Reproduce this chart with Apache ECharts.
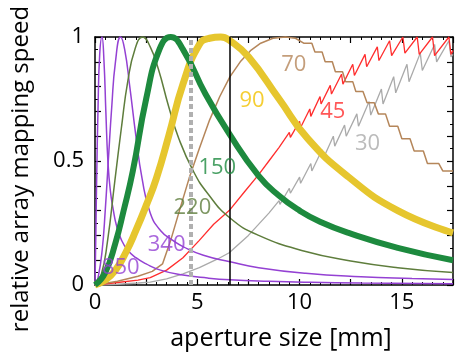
<!DOCTYPE html>
<html><head><meta charset="utf-8">
<script src="https://cdn.jsdelivr.net/npm/echarts/dist/echarts.min.js"></script>
<style>html,body{margin:0;padding:0;background:#fff}#c{width:456px;height:354px}</style>
</head><body><div id="c"></div>
<script>
// ---- data (aperture size [mm], relative mapping speed) ----
const xTickLabels = [0, 5, 10, 15];
const yTickLabels = [0, 0.5, 1];
const refLines = [4.7, 6.6]; // dashed grey, solid black

const s850 = [[0,0],[0.04,0.2],[0.08,0.42],[0.15,0.72],[0.23,0.93],[0.34,1.0],[0.44,0.9],[0.53,0.7],[0.63,0.5],[0.75,0.38],[0.9,0.3],[1.05,0.24],[1.3,0.18],[1.6,0.14],[2.0,0.11],[2.5,0.085],[3.2,0.06],[4.3,0.04],[5.5,0.028],[6.6,0.021],[8.5,0.015],[10.5,0.011],[13,0.008],[17.5,0.005]];
const s340 = [[0,0],[0.15,0.03],[0.35,0.14],[0.5,0.3],[0.65,0.5],[0.82,0.72],[1.0,0.9],[1.25,1.0],[1.45,0.95],[1.7,0.8],[2.0,0.6],[2.3,0.43],[2.7,0.29],[3.2,0.22],[3.8,0.18],[4.3,0.155],[5.3,0.12],[6.6,0.094],[8.0,0.07],[10.3,0.047],[13,0.033],[15.5,0.026],[17.5,0.022]];
const s220 = [[0,0],[0.3,0.04],[0.6,0.17],[0.97,0.42],[1.3,0.64],[1.6,0.82],[1.95,0.95],[2.33,1.0],[2.7,0.96],[3.1,0.87],[3.6,0.72],[4.1,0.59],[4.8,0.46],[5.5,0.37],[6.6,0.27],[8.0,0.2],[10.3,0.135],[12.5,0.097],[14.8,0.07],[17.5,0.05]];
const s150 = [[0,0],[0.5,0.05],[1.0,0.17],[1.4,0.3],[1.85,0.46],[2.5,0.75],[3.15,0.95],[3.7,1.0],[4.3,0.95],[5.4,0.77],[6.56,0.61],[8.0,0.44],[9.0,0.36],[10.0,0.3],[11.0,0.255],[12.4,0.21],[14.8,0.15],[17.5,0.1]];
const s90 = [[0,0],[0.5,0.02],[1.0,0.06],[1.5,0.13],[2.0,0.22],[2.5,0.32],[3.0,0.43],[3.6,0.6],[4.3,0.81],[5.1,0.97],[5.6,0.995],[6.15,1.0],[6.6,0.985],[7.5,0.92],[9.0,0.75],[10.4,0.59],[12.4,0.435],[14.8,0.3],[17.5,0.21]];
const s70 = [[0,0],[1.1,0.015],[2.1,0.035],[2.8,0.055],[3.3,0.085],[3.7,0.18],[4.2,0.32],[4.6,0.43],[5.1,0.55],[5.6,0.665],[6.1,0.76],[6.6,0.84],[7.1,0.9],[7.6,0.945],[8.1,0.975],[8.7,0.995],[9.3,1.0],[9.8,0.995],[10.2,0.975],[10.6,0.975],[10.75,0.94],[11.1,0.94],[11.25,0.9],[11.6,0.9],[11.75,0.86],[12.1,0.86],[12.25,0.82],[12.6,0.82],[12.75,0.78],[13.1,0.78],[13.3,0.735],[13.65,0.735],[13.85,0.69],[14.2,0.69],[14.4,0.64],[14.8,0.64],[15.0,0.59],[15.4,0.59],[15.6,0.54],[16.05,0.54],[16.25,0.49],[16.8,0.49],[17.0,0.46],[17.5,0.46]];
const s45 = [[0,0],[1.1,0.01],[2.1,0.02],[2.7,0.03],[3.5,0.06],[4.3,0.11],[5.1,0.18],[5.8,0.245],[6.56,0.3],[7.3,0.375],[8.0,0.445],[8.5,0.5],[9.0,0.555],[9.5,0.615],[9.55,0.595],[10.0,0.66],[10.05,0.635],[10.5,0.71],[10.55,0.68],[11.0,0.76],[11.05,0.73],[11.5,0.805],[11.56,0.77],[12.05,0.85],[12.12,0.81],[12.6,0.89],[12.68,0.845],[13.2,0.93],[13.28,0.88],[13.8,0.96],[13.88,0.905],[14.4,0.985],[14.5,0.925],[15.05,1.0],[15.15,0.935],[15.75,1.0],[15.85,0.93],[16.5,1.0],[16.6,0.925],[17.3,1.0],[17.4,0.93],[17.5,0.945]];
const s30 = [[0,0],[1.1,0.003],[2.1,0.008],[2.7,0.012],[3.5,0.025],[4.3,0.045],[5.1,0.07],[6.0,0.105],[6.56,0.13],[7.5,0.2],[8.5,0.29],[9.0,0.34],[9.04,0.325],[9.5,0.39],[9.55,0.37],[10.0,0.435],[10.05,0.41],[10.55,0.49],[10.6,0.46],[11.1,0.545],[11.16,0.51],[11.65,0.6],[11.72,0.56],[12.2,0.645],[12.28,0.6],[12.8,0.69],[12.88,0.64],[13.4,0.74],[13.48,0.685],[14.0,0.79],[14.08,0.73],[14.6,0.84],[14.7,0.775],[15.25,0.89],[15.35,0.82],[15.9,0.935],[16.0,0.865],[16.6,0.97],[16.7,0.9],[17.3,0.985],[17.4,0.92],[17.5,0.93]];

// curve labels: [text, x (mm), y (rel. speed)]
const curveLabels = [
  ['850', 1.26, 0.069], ['340', 3.5, 0.161], ['220', 4.76, 0.31], ['150', 5.98, 0.472],
  ['90', 7.68, 0.742], ['70', 9.72, 0.887], ['45', 11.62, 0.70], ['30', 13.32, 0.569]
];

// ---- styles ----
const FONT = 'Open Sans';
const C = {
  '850': '#9441d3', '340': '#9441d3', '220': '#5e7d3c', '150': '#1d8a3e',
  '90': '#e6c62e', '70': '#b5865a', '45': '#ff2d2d', '30': '#aaaaaa'
};
const LABELC = Object.assign({}, C, {'90': '#f2c200'});

function line(name, data, width, smooth) {
  return {
    name, type: 'line', data, smooth, showSymbol: false, symbol: 'none', clip: false,
    lineStyle: {color: C[name], width}, itemStyle: {color: C[name]}, z: 2
  };
}
const near = (v, arr) => arr.some(a => Math.abs(a - v) < 1e-6);

const axisLineS = {show: true, onZero: false, lineStyle: {color: '#000', width: 1.5}};
const tickS = {show: true, inside: true, length: 6, lineStyle: {color: '#000', width: 1.2}};
const minorS = (n) => ({show: true, splitNumber: n, length: 3, lineStyle: {color: '#000', width: 1}});

const option = {
  animation: false,
  backgroundColor: '#fff',
  grid: {left: 95, right: 0, top: 37, bottom: 69},
  xAxis: [
    {type: 'value', min: 0, max: 17.5, interval: 2.5, position: 'bottom',
     axisLine: axisLineS, axisTick: tickS, minorTick: minorS(5),
     splitLine: {show: false}, minorSplitLine: {show: false},
     axisLabel: {formatter: v => near(v, xTickLabels) ? String(v) : '', fontSize: 22, color: '#000', fontFamily: FONT, margin: 7}},
    {type: 'value', min: 0, max: 17.5, interval: 2.5, position: 'top',
     axisLine: axisLineS, axisTick: tickS, minorTick: minorS(5),
     splitLine: {show: false}, axisLabel: {show: false}}
  ],
  yAxis: [
    {type: 'value', min: 0, max: 1, interval: 0.1, position: 'left',
     axisLine: axisLineS, axisTick: tickS, minorTick: minorS(2),
     splitLine: {show: false}, minorSplitLine: {show: false},
     axisLabel: {formatter: v => near(v, yTickLabels) ? String(+v.toFixed(2)) : '', fontSize: 22, color: '#000', fontFamily: FONT, margin: 11}},
    {type: 'value', min: 0, max: 1, interval: 0.1, position: 'right',
     axisLine: axisLineS, axisTick: tickS, minorTick: minorS(2),
     splitLine: {show: false}, axisLabel: {show: false}}
  ],
  graphic: [
    {type: 'text', x: 281, y: 339, style: {text: 'aperture size [mm]', fontSize: 25, fontFamily: FONT, fill: '#000', textAlign: 'center', textVerticalAlign: 'middle'}},
    {type: 'text', x: 21, y: 169, rotation: Math.PI / 2, style: {text: 'relative array mapping speed', fontSize: 24, fontFamily: FONT, fill: '#000', textAlign: 'center', textVerticalAlign: 'middle'}}
  ],
  series: [
    Object.assign(line('30', s30, 1.3, false), {
      markLine: {silent: true, symbol: 'none', label: {show: false}, animation: false,
        data: [
          {xAxis: refLines[0], lineStyle: {color: '#b0b0b0', width: 4, type: [5, 3]}},
          {xAxis: refLines[1], lineStyle: {color: '#000', width: 1.5, type: 'solid'}}
        ]}
    }),
    line('45', s45, 1.3, false),
    line('70', s70, 1.5, false),
    line('850', s850, 1.5, true),
    line('340', s340, 1.5, true),
    line('220', s220, 1.5, true),
    line('90', s90, 7, true),
    line('150', s150, 6, true),
    {type: 'scatter', symbolSize: 0, z: 5, silent: true,
     data: curveLabels.map(([t, x, y]) => ({value: [x, y], name: t,
       label: {show: true, position: 'inside', formatter: t, color: LABELC[t], fontSize: 22, fontFamily: FONT}}))}
  ]
};
const chart = echarts.init(document.getElementById('c'));
chart.setOption(option);
</script>
</body></html>
